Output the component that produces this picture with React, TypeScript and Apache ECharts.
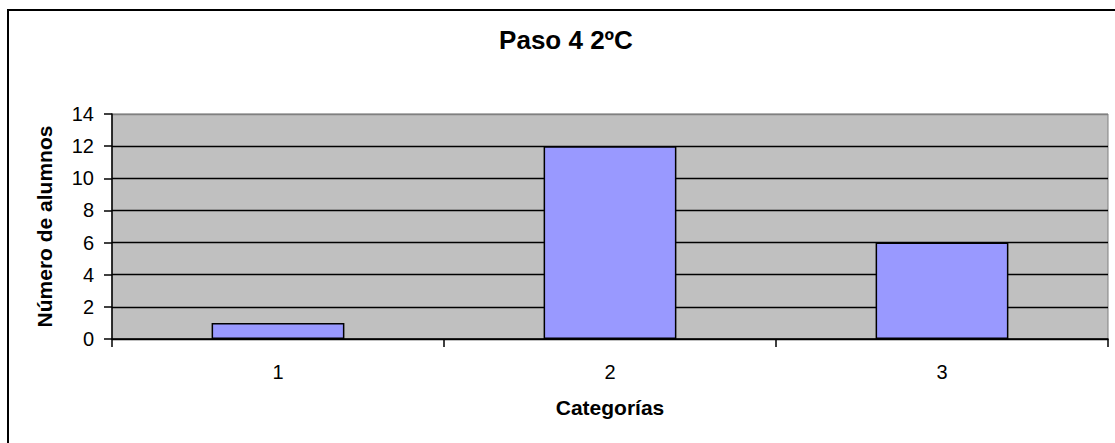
import React, { useEffect, useRef } from "react";
import * as echarts from "echarts";

const categories = ["1", "2", "3"];
const values = [1, 12, 6];
const titleText = "Paso 4 2ºC";
const xName = "Categorías";
const yName = "Número de alumnos";

export default function App() {
  const ref = useRef<HTMLDivElement>(null);
  useEffect(() => {
    const chart = echarts.init(ref.current!, null, { renderer: "svg" });
    const font = "'Liberation Sans', Arial, sans-serif";
    chart.setOption({
      animation: false,
      textStyle: { fontFamily: font },
      title: {
        text: titleText,
        left: 566,
        top: 27,
        padding: 0,
        textAlign: "center",
        textStyle: { fontFamily: font, fontSize: 26, fontWeight: "bold", color: "#000" },
      },
      graphic: [
        {
          type: "rect",
          shape: { x: 8, y: 10, width: 1130, height: 450 },
          style: { fill: "none", stroke: "#000", lineWidth: 2 },
          silent: true,
        },
      ],
      grid: {
        left: 112,
        top: 114,
        right: 7,
        bottom: 104,
        show: true,
        backgroundColor: "#C0C0C0",
        borderColor: "#808080",
        borderWidth: 1,
      },
      xAxis: {
        type: "category",
        data: categories,
        name: xName,
        nameLocation: "middle",
        nameGap: 58,
        nameTextStyle: { fontFamily: font, fontSize: 21, fontWeight: "bold", color: "#000" },
        axisLine: { lineStyle: { color: "#000", width: 1.5 } },
        axisTick: { show: true, length: 8, lineStyle: { color: "#000", width: 1.5 } },
        axisLabel: { fontFamily: font, fontSize: 20, color: "#000", margin: 23 },
        splitLine: { show: false },
      },
      yAxis: {
        type: "value",
        min: 0,
        max: 14,
        interval: 2,
        name: yName,
        nameLocation: "middle",
        nameGap: 57,
        nameRotate: 90,
        nameTextStyle: { fontFamily: font, fontSize: 21, fontWeight: "bold", color: "#000" },
        axisLine: { show: true, lineStyle: { color: "#000", width: 1.5 } },
        axisTick: { show: true, length: 8, lineStyle: { color: "#000", width: 1.5 } },
        axisLabel: { fontFamily: font, fontSize: 20, color: "#000", margin: 18 },
        splitLine: {
          show: true,
          lineStyle: {
            color: ["#000", "#000", "#000", "#000", "#000", "#000", "#000", "#808080"],
            width: 1.4,
          },
        },
      },
      series: [
        {
          type: "bar",
          data: values,
          barWidth: "40%",
          itemStyle: { color: "#9999FF", borderColor: "#000", borderWidth: 1.5 },
        },
      ],
    });
    return () => chart.dispose();
  }, []);
  return (
    <div
      ref={ref}
      style={{ position: "absolute", left: 0, top: 0, width: 1115, height: 443 }}
    />
  );
}
